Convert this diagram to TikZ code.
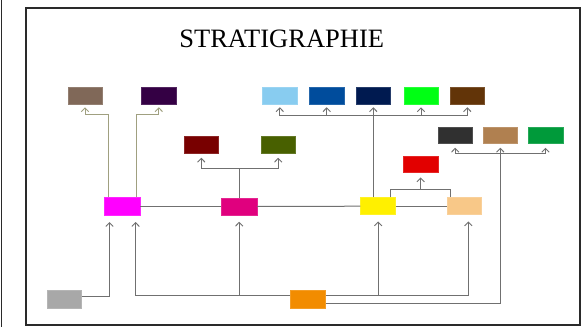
\documentclass[tikz,border=0pt]{standalone}
\usepackage{fontspec}
\setmainfont{Liberation Serif}
\usetikzlibrary{arrows.meta,calc}
\definecolor{cBG}{HTML}{806858}
\definecolor{cPU}{HTML}{340044}
\definecolor{cLB}{HTML}{88CCF0}
\definecolor{cBL}{HTML}{004C9C}
\definecolor{cNV}{HTML}{001A50}
\definecolor{cGR}{HTML}{00FF14}
\definecolor{cBR}{HTML}{623408}
\definecolor{cDR}{HTML}{780000}
\definecolor{cOL}{HTML}{486000}
\definecolor{cDG}{HTML}{303030}
\definecolor{cTN}{HTML}{B08050}
\definecolor{cG2}{HTML}{009A3A}
\definecolor{cRD}{HTML}{E20000}
\definecolor{cMG}{HTML}{FF00FF}
\definecolor{cPK}{HTML}{E0007E}
\definecolor{cYE}{HTML}{FFF000}
\definecolor{cPE}{HTML}{F8C888}
\definecolor{cGY}{HTML}{A8A8A8}
\definecolor{cOR}{HTML}{F28C00}
\definecolor{cLine}{HTML}{707070}
\definecolor{cOLine}{HTML}{A0A080}
\definecolor{cFrame}{HTML}{2A2A2A}
\tikzset{
  box/.style={rectangle, inner sep=0pt, minimum width=34.5pt, minimum height=17pt, fill=#1, draw=#1!85!white, line width=0.5pt},
  conn/.style={draw=cLine, line width=1pt},
  arr/.style={conn, -{Straight Barb[length=3.8pt,width=7.5pt,line width=0.9pt]}},
  oconn/.style={draw=cOLine, line width=1pt},
  oarr/.style={oconn, -{Straight Barb[length=3.8pt,width=7.5pt,line width=0.9pt]}},
}
\begin{document}
\begin{tikzpicture}[x=1pt,y=-1pt]
\useasboundingbox (0,0) rectangle (582,327);
\fill[white] (0,0) rectangle (582,327);
\draw[cFrame, line width=1.5pt] (1.7,0) -- (1.7,327);
\draw[cFrame, line width=1.6pt] (26,8) rectangle (580,325);
\node[inner sep=0pt, font=\fontsize{26.5}{30}\selectfont] (title) at (281.7,39) {STRATIGRAPHIE};

% top row
\node[box=cBG] (bg) at (85,95.5) {};
\node[box=cPU] (pu) at (158.8,95.5) {};
\node[box=cLB] (lb) at (279.8,95.5) {};
\node[box=cBL] (bl) at (326.7,95.5) {};
\node[box=cNV] (nv) at (373.3,95.5) {};
\node[box=cGR] (gr) at (421,95.5) {};
\node[box=cBR] (br) at (467.3,95.5) {};
% second
\node[box=cDR] (dr) at (201.3,144.5) {};
\node[box=cOL] (ol) at (278.2,144.5) {};
\node[box=cDG, minimum height=16pt] (dg) at (455.2,135.2) {};
\node[box=cTN, minimum height=16pt] (tn) at (500.3,135.2) {};
\node[box=cG2, minimum height=16pt] (g2) at (545.5,135.2) {};
\node[box=cRD, minimum height=16pt] (rd) at (420.7,164.7) {};
% main row
\node[box=cMG, minimum height=17.6pt, minimum width=35.7pt] (mg) at (122.2,206.5) {};
\node[box=cPK, minimum width=35.3pt] (pk) at (239.2,206.5) {};
\node[box=cYE, minimum width=35pt] (ye) at (378.2,206.2) {};
\node[box=cPE, minimum width=34.7pt] (pe) at (464.3,206.2) {};
% bottom
\node[box=cGY, minimum height=17.7pt] (gy) at (64,299.2) {};
\node[box=cOR, minimum height=17.7pt, minimum width=35pt] (or) at (308.2,299.2) {};

% main horizontal
\draw[conn] (mg.east) -- (pk.west);
\draw[conn] (pk.east) -- (ye.west);
\draw[conn] (ye.east) -- (pe.west);

% magenta to top-left boxes
\draw[oarr] ([xshift=4pt]mg.north west) |- ([yshift=-10.5pt]bg.south) -- ([yshift=-3pt]bg.south);
\draw[oarr] ([xshift=-4.3pt]mg.north east) |- ([yshift=-10.5pt]pu.south) -- ([yshift=-3pt]pu.south);

% pink to dark red / olive
\coordinate (j1) at (239.7,168.3);
\draw[conn] ([xshift=0.5pt]pk.north) -- (j1);
\draw[arr] (j1) -| ([yshift=-4.5pt]dr.south);
\draw[arr] (j1) -| ([yshift=-4.5pt]ol.south);

% yellow to top row
\coordinate (j2) at (373.3,115);
\draw[arr] (ye.north -| nv.south) -- ([yshift=-3pt]nv.south);
\draw[arr] (j2) -| ([yshift=-3pt]lb.south);
\draw[arr] (j2) -| ([yshift=-3pt]bl.south);
\draw[arr] (j2) -| ([yshift=-3pt]gr.south);
\draw[arr] (j2) -| ([yshift=-3pt]br.south);

% yellow / peach to red
\coordinate (j3) at (420.7,189.3);
\draw[conn] ([xshift=-5.4pt]ye.north east) |- (j3) -| ([xshift=3.3pt]pe.north west);
\draw[arr] (j3) -- ([yshift=-4.5pt]rd.south);

% grey to magenta
\draw[arr] ([yshift=2.9pt]gy.east) -| ([xshift=5.4pt,yshift=-6.5pt]mg.south west);

% orange feeds
\coordinate (ol1) at ([yshift=3.5pt]or.west);
\coordinate (or1) at ([yshift=3.5pt]or.east);
\draw[arr] (ol1) -| ([xshift=-4.7pt,yshift=-6.5pt]mg.south east);
\draw[arr] (pk.south |- ol1) -- ([yshift=-6.5pt]pk.south);
\draw[arr] (or1) -| ([xshift=4pt,yshift=-6.5pt]pe.south);
\draw[arr] (ye.south |- or1) -- ([yshift=-6.5pt]ye.south);

% orange to tan and siblings
\coordinate (j4) at (500.3,153.3);
\draw[arr] ([yshift=-4.1pt]or.east) -| ([yshift=-4.3pt]tn.south);
\draw[arr] (j4) -| ([yshift=-4.3pt]dg.south);
\draw[arr] (j4) -| ([yshift=-4.3pt]g2.south);
\end{tikzpicture}
\end{document}
